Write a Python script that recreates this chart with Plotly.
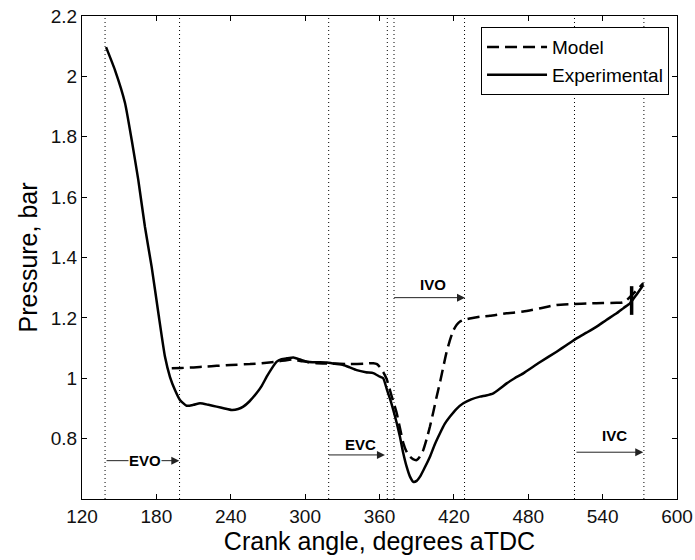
import plotly.graph_objects as go

# ---------------- data ----------------
exp_x = [139.4, 146.6, 154.7, 160.1, 165.4, 170.8, 176.2, 181.6, 187.0, 191.0, 195.0, 199.0,
         204.4, 210.0, 215.2, 222.0, 228.6, 235.0, 240.7, 246.0, 250.1, 255.0, 260.9, 265.0,
         269.0, 273.0, 277.1, 281.0, 285.1, 290.5, 296.0, 301.3, 309.0, 317.4, 324.0, 330.8,
         336.0, 341.6, 349.0, 355.0, 360.4, 363.0, 366.0, 369.0, 371.1, 374.0, 376.5, 379.0,
         381.9, 384.5, 387.3, 390.0, 392.7, 396.0, 400.7, 404.5, 408.8, 412.5, 416.9, 422.0,
         427.6, 434.0, 441.1, 446.0, 451.8, 457.0, 462.6, 469.0, 476.0, 489.0, 502.9, 511.0,
         519.0, 527.0, 535.2, 543.0, 551.3, 557.0, 562.0, 567.0, 572.8]
exp_y = [2.097, 2.021, 1.912, 1.789, 1.657, 1.501, 1.369, 1.216, 1.070, 1.004, 0.961, 0.928,
         0.909, 0.912, 0.917, 0.912, 0.906, 0.900, 0.895, 0.898, 0.906, 0.923, 0.951, 0.975,
         1.005, 1.032, 1.055, 1.063, 1.066, 1.069, 1.062, 1.055, 1.053, 1.052, 1.048, 1.044,
         1.036, 1.027, 1.020, 1.017, 1.005, 1.000, 0.962, 0.925, 0.895, 0.850, 0.806, 0.755,
         0.707, 0.675, 0.657, 0.660, 0.674, 0.700, 0.740, 0.780, 0.818, 0.848, 0.873, 0.898,
         0.917, 0.930, 0.939, 0.943, 0.950, 0.965, 0.983, 1.000, 1.016, 1.052, 1.088, 1.110,
         1.132, 1.151, 1.171, 1.193, 1.215, 1.233, 1.248, 1.275, 1.309]

model_x = [192.4, 200.0, 210.0, 220.0, 228.6, 240.0, 255.5, 265.0, 277.1, 285.0, 290.5, 298.0,
           309.3, 320.0, 336.2, 347.0, 355.0, 358.0, 360.4, 363.0, 365.8, 369.5, 373.9, 376.5,
           379.2, 382.0, 384.6, 387.0, 390.0, 392.5, 395.3, 398.0, 400.7, 403.5, 406.1, 409.0,
           411.5, 414.0, 416.9, 419.5, 422.3, 425.0, 427.6, 434.0, 441.1, 449.1, 462.6, 476.0,
           490.0, 502.9, 516.0, 529.8, 540.0, 551.3, 556.0, 559.4, 566.0, 572.8]
model_y = [1.033, 1.034, 1.036, 1.039, 1.041, 1.044, 1.047, 1.050, 1.055, 1.060, 1.062, 1.056,
           1.050, 1.049, 1.047, 1.048, 1.050, 1.047, 1.036, 1.020, 0.997, 0.945, 0.884, 0.835,
           0.785, 0.755, 0.740, 0.732, 0.729, 0.740, 0.762, 0.798, 0.840, 0.890, 0.939, 0.990,
           1.038, 1.085, 1.127, 1.158, 1.177, 1.188, 1.193, 1.199, 1.204, 1.207, 1.215, 1.221,
           1.232, 1.243, 1.246, 1.248, 1.249, 1.250, 1.251, 1.259, 1.285, 1.315]

# short vertical mark on the model curve near IVC
mark_x = [563.4, 563.4]
mark_y = [1.210, 1.305]

# valve-event vertical dotted lines (crank angle)
event_lines = [138.6, 198.7, 319.0, 366.3, 371.7, 428.6, 517.3, 573.3]

# valve-event arrows: label, start angle, end angle, arrow level, label x, label y
events = ["EVO", "EVC", "IVO", "IVC"]
arrow_start = [138.6, 317.9, 370.6, 517.7]
arrow_end = [198.5, 364.4, 429.0, 572.8]
arrow_y = [0.727, 0.746, 1.267, 0.755]
label_x = [170.8, 344.8, 403.2, 549.4]
label_y = [0.727, 0.782, 1.309, 0.809]
label_bg = [True, False, False, False]

x_ticks = [120, 180, 240, 300, 360, 420, 480, 540, 600]
y_ticks = [0.8, 1.0, 1.2, 1.4, 1.6, 1.8, 2.0, 2.2]
y_ticktext = ["0.8", "1", "1.2", "1.4", "1.6", "1.8", "2", "2.2"]

FONT = "Liberation Sans, Arial, sans-serif"

fig = go.Figure()
fig.add_trace(go.Scatter(x=model_x, y=model_y, mode="lines", name="Model",
                         line=dict(color="black", width=2.5, dash="12px,6px",
                                   shape="spline", smoothing=0.5)))
fig.add_trace(go.Scatter(x=exp_x, y=exp_y, mode="lines", name="Experimental",
                         line=dict(color="black", width=2.5,
                                   shape="spline", smoothing=0.5)))
fig.add_trace(go.Scatter(x=mark_x, y=mark_y, mode="lines", showlegend=False,
                         line=dict(color="black", width=3.5)))

for xv in event_lines:
    fig.add_shape(type="line", xref="x", yref="paper", x0=xv, x1=xv, y0=0, y1=1,
                  line=dict(color="black", width=1, dash="1px,3px"), layer="below")

for i, name in enumerate(events):
    fig.add_annotation(x=arrow_end[i], y=arrow_y[i], ax=arrow_start[i], ay=arrow_y[i],
                       xref="x", yref="y", axref="x", ayref="y", text="",
                       showarrow=True, arrowhead=2, arrowsize=1.6, arrowwidth=1,
                       arrowcolor="#222")
for i, name in enumerate(events):
    fig.add_annotation(x=label_x[i], y=label_y[i], xref="x", yref="y",
                       text="<b>%s</b>" % name, showarrow=False,
                       font=dict(family=FONT, size=15, color="black"),
                       bgcolor="white" if label_bg[i] else "rgba(0,0,0,0)",
                       borderpad=0)

axis_common = dict(showgrid=False, zeroline=False, showline=True, linecolor="black",
                   linewidth=1, mirror="ticks", ticks="inside", ticklen=5,
                   tickcolor="black", tickwidth=1,
                   tickfont=dict(family=FONT, size=19, color="#111"))

fig.update_xaxes(range=[120, 600], tickvals=x_ticks, **axis_common,
                 title=dict(text="Crank angle, degrees aTDC", standoff=4,
                            font=dict(family=FONT, size=25, color="black")))
fig.update_yaxes(range=[0.6, 2.2], tickvals=y_ticks, ticktext=y_ticktext, **axis_common,
                 title=dict(text="Pressure, bar", standoff=6,
                            font=dict(family=FONT, size=25, color="black")))

fig.update_layout(
    width=695, height=560,
    margin=dict(l=82, r=18, t=16, b=61, autoexpand=False),
    paper_bgcolor="white", plot_bgcolor="white",
    font=dict(family=FONT, color="black"),
    legend=dict(x=0.9866, xanchor="right", y=0.977, yanchor="top",
                bgcolor="white", bordercolor="black", borderwidth=1,
                font=dict(family=FONT, size=19, color="black"),
                itemwidth=60, tracegroupgap=0),
)

fig.write_html("out.html")
